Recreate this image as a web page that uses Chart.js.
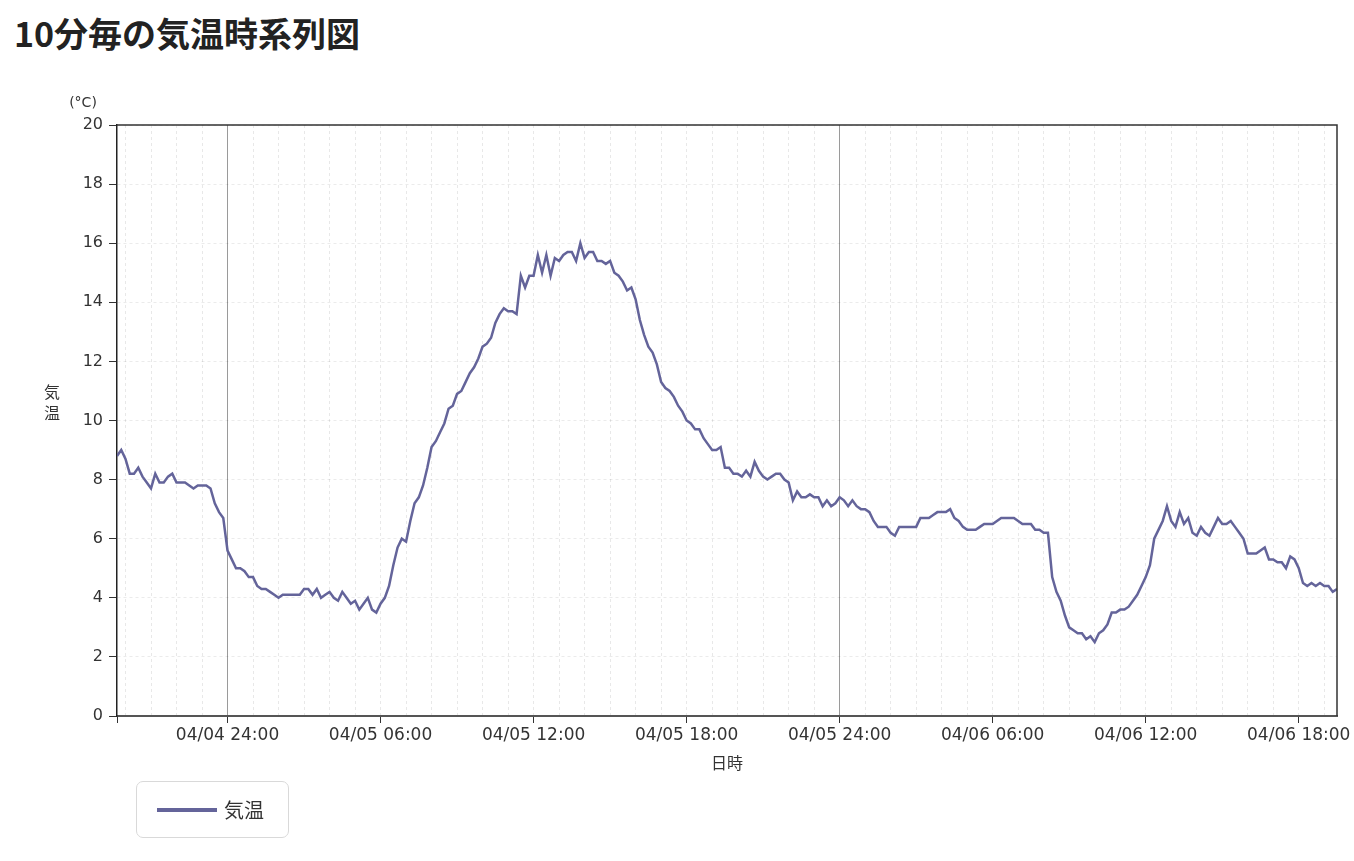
<!DOCTYPE html>
<html lang="ja">
<head>
<meta charset="utf-8">
<title>10分毎の気温時系列図</title>
<script src="https://cdn.jsdelivr.net/npm/chart.js@4.4.0/dist/chart.umd.min.js"></script>
<style>
  html, body { margin: 0; padding: 0; background: #fff; }
  body { width: 1354px; height: 861px; position: relative; overflow: hidden; font-family: 'Noto Sans CJK JP', sans-serif; }
  #titulo { position: absolute; left: 14px; top: 16px; margin: 0; font-size: 34px; line-height: 34px; font-weight: 700; color: #222; }
  #grafico { position: absolute; left: 0; top: 0; }
  #leyenda { position: absolute; left: 136px; top: 781px; width: 153px; height: 57px; box-sizing: border-box;
             border: 1px solid #d9d9d9; border-radius: 7px; }
  #leyenda .muestra { position: absolute; left: 20px; top: 26px; width: 60px; height: 4px; }
  #leyenda .texto { position: absolute; left: 87px; top: 14px; font-size: 20px; line-height: 28px; color: #333; }
</style>
</head>
<body>
<h1 id="titulo">10分毎の気温時系列図</h1>
<canvas id="grafico" width="1354" height="861"></canvas>
<div id="leyenda"></div>
<script>
// 10分毎の観測値 (04/04 19:40 〜 04/06 19:30)
const inicio = '04/04 19:40';
const intervaloMin = 10;
const temperaturas = [
  8.8, 9.0, 8.7, 8.2, 8.2, 8.4, 8.1, 7.9, 7.7, 8.2, 7.9, 7.9, 8.1, 8.2, 7.9, 7.9, 7.9, 7.8, 7.7, 7.8,
  7.8, 7.8, 7.7, 7.2, 6.9, 6.7, 5.6, 5.3, 5.0, 5.0, 4.9, 4.7, 4.7, 4.4, 4.3, 4.3, 4.2, 4.1, 4.0, 4.1,
  4.1, 4.1, 4.1, 4.1, 4.3, 4.3, 4.1, 4.3, 4.0, 4.1, 4.2, 4.0, 3.9, 4.2, 4.0, 3.8, 3.9, 3.6, 3.8, 4.0,
  3.6, 3.5, 3.8, 4.0, 4.4, 5.1, 5.7, 6.0, 5.9, 6.6, 7.2, 7.4, 7.8, 8.4, 9.1, 9.3, 9.6, 9.9, 10.4, 10.5,
  10.9, 11.0, 11.3, 11.6, 11.8, 12.1, 12.5, 12.6, 12.8, 13.3, 13.6, 13.8, 13.7, 13.7, 13.6, 14.9, 14.5, 14.9, 14.9, 15.6,
  15.0, 15.6, 14.9, 15.5, 15.4, 15.6, 15.7, 15.7, 15.4, 16.0, 15.5, 15.7, 15.7, 15.4, 15.4, 15.3, 15.4, 15.0, 14.9, 14.7,
  14.4, 14.5, 14.1, 13.4, 12.9, 12.5, 12.3, 11.9, 11.3, 11.1, 11.0, 10.8, 10.5, 10.3, 10.0, 9.9, 9.7, 9.7, 9.4, 9.2,
  9.0, 9.0, 9.1, 8.4, 8.4, 8.2, 8.2, 8.1, 8.3, 8.1, 8.6, 8.3, 8.1, 8.0, 8.1, 8.2, 8.2, 8.0, 7.9, 7.3,
  7.6, 7.4, 7.4, 7.5, 7.4, 7.4, 7.1, 7.3, 7.1, 7.2, 7.4, 7.3, 7.1, 7.3, 7.1, 7.0, 7.0, 6.9, 6.6, 6.4,
  6.4, 6.4, 6.2, 6.1, 6.4, 6.4, 6.4, 6.4, 6.4, 6.7, 6.7, 6.7, 6.8, 6.9, 6.9, 6.9, 7.0, 6.7, 6.6, 6.4,
  6.3, 6.3, 6.3, 6.4, 6.5, 6.5, 6.5, 6.6, 6.7, 6.7, 6.7, 6.7, 6.6, 6.5, 6.5, 6.5, 6.3, 6.3, 6.2, 6.2,
  4.7, 4.2, 3.9, 3.4, 3.0, 2.9, 2.8, 2.8, 2.6, 2.7, 2.5, 2.8, 2.9, 3.1, 3.5, 3.5, 3.6, 3.6, 3.7, 3.9,
  4.1, 4.4, 4.7, 5.1, 6.0, 6.3, 6.6, 7.1, 6.6, 6.4, 6.9, 6.5, 6.7, 6.2, 6.1, 6.4, 6.2, 6.1, 6.4, 6.7,
  6.5, 6.5, 6.6, 6.4, 6.2, 6.0, 5.5, 5.5, 5.5, 5.6, 5.7, 5.3, 5.3, 5.2, 5.2, 5.0, 5.4, 5.3, 5.0, 4.5,
  4.4, 4.5, 4.4, 4.5, 4.4, 4.4, 4.2, 4.3
];
// 目盛り (時刻は 04/04 00:00 からの経過時間)
const horasEtiqueta = [24, 30, 36, 42, 48, 54, 60, 66];
const etiquetasX = ['04/04 24:00', '04/05 06:00', '04/05 12:00', '04/05 18:00',
                    '04/05 24:00', '04/06 06:00', '04/06 12:00', '04/06 18:00'];
const finHora = 67.5; // 04/06 19:30
const tituloX = '日時';
const tituloY = '気温';
const unidadY = '(°C)';
const colorLinea = '#64649a';

const [hIni, mIni] = inicio.split(' ')[1].split(':').map(Number);
const inicioHora = hIni + mIni / 60;
const puntos = temperaturas.map((t, i) => ({ x: inicioHora + i * intervaloMin / 60, y: t }));

const fuenteTicks = "'DejaVu Sans', 'Noto Sans', sans-serif";
const cerca = (a, b) => Math.abs(a - b) < 1e-6;
const esEtiqueta = v => horasEtiqueta.some(h => cerca(h, v));
const esDia = v => esEtiqueta(v) && Math.round(v) % 24 === 0;

// marco superior/derecho y títulos del eje Y
const marco = {
  id: 'marco',
  afterDraw(chart) {
    const { ctx, chartArea: a } = chart;
    ctx.save();
    ctx.strokeStyle = '#333';
    ctx.lineWidth = 1.5;
    ctx.beginPath();
    ctx.moveTo(a.left, a.top);
    ctx.lineTo(a.right, a.top);
    ctx.lineTo(a.right, a.bottom);
    ctx.stroke();
    ctx.fillStyle = '#333';
    ctx.textAlign = 'center';
    ctx.textBaseline = 'middle';
    ctx.font = "14px 'DejaVu Sans', sans-serif";
    ctx.fillText(unidadY, a.left - 34, a.top - 22);
    ctx.font = "16px 'Noto Sans CJK JP', sans-serif";
    tituloY.split('').forEach((c, k) => ctx.fillText(c, 52, 392 + k * 21));
    ctx.restore();
  }
};

const ctxG = document.getElementById('grafico').getContext('2d');
const grafico = new Chart(ctxG, {
  type: 'line',
  data: {
    datasets: [{
      label: tituloY,
      data: puntos,
      borderColor: colorLinea,
      backgroundColor: colorLinea,
      borderWidth: 2.5,
      pointRadius: 0,
      tension: 0,
      fill: false
    }]
  },
  options: {
    responsive: false,
    animation: false,
    layout: { padding: { top: 125, right: 17, bottom: 88, left: 0 } },
    scales: {
      x: {
        type: 'linear',
        min: inicioHora,
        max: finHora,
        afterBuildTicks: (escala) => {
          const t = [{ value: inicioHora }];
          for (let h = Math.ceil(inicioHora); h <= finHora; h++) t.push({ value: h });
          escala.ticks = t;
        },
        afterFit: (escala) => { escala.height = 57; },
        ticks: {
          autoSkip: false,
          maxRotation: 0,
          padding: 2,
          color: '#333',
          font: { size: 17, family: fuenteTicks },
          callback: (v) => {
            const k = horasEtiqueta.findIndex(h => cerca(h, v));
            return k >= 0 ? etiquetasX[k] : '';
          }
        },
        grid: {
          color: (c) => {
            const v = c.tick ? c.tick.value : null;
            if (v === null || cerca(v, inicioHora)) return 'transparent';
            return esDia(v) ? '#9a9a9a' : 'rgba(0,0,0,0.09)';
          },
          tickColor: (c) => (c.tick && (esEtiqueta(c.tick.value) || cerca(c.tick.value, inicioHora))) ? '#333' : 'transparent',
          tickLength: 7,
          lineWidth: 1
        },
        border: {
          display: true,
          color: '#555',
          width: 2,
          dash: (c) => (c.tick && esDia(c.tick.value)) ? [] : [3, 3]
        },
        title: {
          display: true,
          text: tituloX,
          color: '#333',
          padding: 0,
          font: { size: 16, family: "'Noto Sans CJK JP', sans-serif" }
        }
      },
      y: {
        min: 0,
        max: 20,
        afterFit: (escala) => { escala.width = 117; },
        ticks: {
          stepSize: 2,
          padding: 6,
          color: '#333',
          font: { size: 16, family: fuenteTicks }
        },
        grid: {
          color: 'rgba(0,0,0,0.08)',
          tickColor: '#333',
          tickLength: 8,
          lineWidth: 1
        },
        border: { display: true, color: '#222', width: 1.5, dash: [3, 3] }
      }
    },
    plugins: {
      legend: { display: false },
      tooltip: { enabled: false }
    }
  },
  plugins: [marco]
});

// leyenda HTML a partir del dataset
const ds = grafico.data.datasets[0];
document.getElementById('leyenda').innerHTML =
  '<div class="muestra" style="background:' + ds.borderColor + '"></div>' +
  '<div class="texto">' + ds.label + '</div>';
</script>
</body>
</html>
